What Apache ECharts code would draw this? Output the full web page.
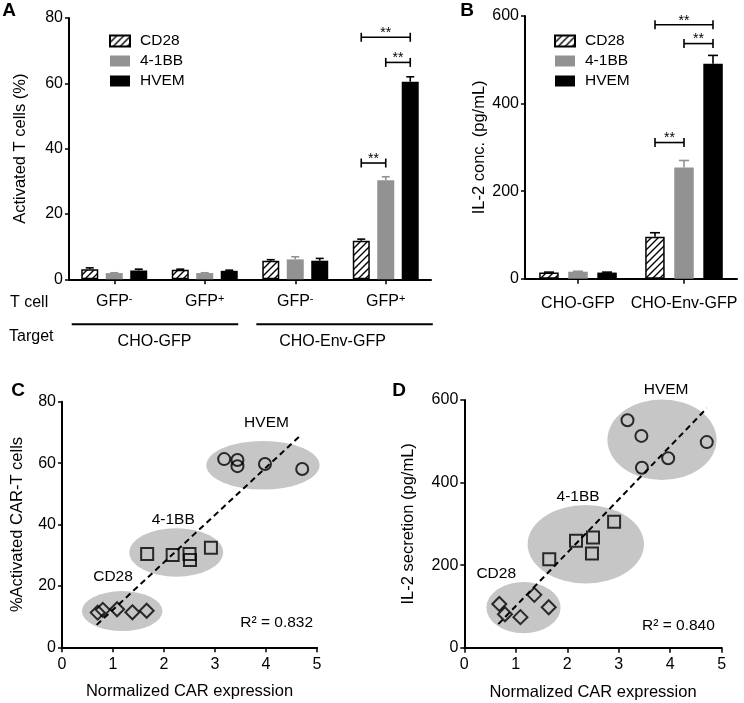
<!DOCTYPE html>
<html>
<head>
<meta charset="utf-8">
<script src="https://cdn.jsdelivr.net/npm/echarts@6/dist/echarts.min.js"></script>
<style>
html,body{margin:0;padding:0;background:#fff}
#main{width:744px;height:703px}
</style>
</head>
<body>
<div id="main"></div>
<script>
// ---- data ----
var aCats=['GFP-','GFP+','GFP-','GFP+'];
var aTargets=['CHO-GFP','CHO-Env-GFP'];
var aCD28=[3.1,2.9,5.7,11.8], aCD28Err=[0.4,0.2,0.3,0.5];
var a41BB=[1.9,1.9,6.1,30.3], a41BBErr=[0.1,0.1,0.8,1.1];
var aHVEM=[2.7,2.6,5.7,60.5], aHVEMErr=[0.4,0.2,0.7,1.5];
// [category, from bar, to bar, height]
var aSig=[[3,0,1,35.6],[3,1,2,66.4],[3,0,2,74.1]];

var bCats=['CHO-GFP','CHO-Env-GFP'];
var bCD28=[14,96], bCD28Err=[1,9];
var b41BB=[16,254], b41BBErr=[1,16];
var bHVEM=[14,491], bHVEMErr=[1,19];
var bSig=[[1,0,1,311],[1,1,2,537],[1,0,2,580]];

var cHVEM=[[3.18,61.3],[3.44,61.0],[3.44,59.0],[3.98,59.7],[4.71,58.1]];
var c41BB=[[1.67,30.4],[2.17,30.1],[2.50,30.4],[2.51,28.4],[2.92,32.4]];
var cCD28=[[0.70,11.3],[0.80,12.2],[1.08,12.4],[1.38,11.4],[1.66,11.9]];
var cFit=[[0.68,7.3],[4.67,68.9]];
var cGroups=[[3.94,59.3,1.11,7.9],[2.24,30.9,0.92,7.9],[1.18,11.8,0.79,6.5]]; // cx, cy, rx, ry
var cR2='R\u00b2 = 0.832';

var dHVEM=[[3.17,551],[3.44,513],[3.45,436],[3.96,459],[4.71,498]];
var d41BB=[[1.65,214],[2.17,259],[2.50,267],[2.48,228],[2.91,305]];
var dCD28=[[0.68,106],[0.79,81],[1.09,74],[1.36,128],[1.64,98]];
var dFit=[[0.66,57],[4.71,580]];
var dGroups=[[3.84,503.6,1.06,97.6],[2.36,250.6,1.13,95],[1.15,97,0.72,62]];
var dR2='R\u00b2 = 0.840';

// ---- style ----
var FONT='"Liberation Sans", Arial, sans-serif';
var GRAY='#929292', ELL='#c6c6c6';

function hatch(){
	var c=document.createElement('canvas');c.width=7;c.height=7;
	var g=c.getContext('2d');
	g.fillStyle='#fff';g.fillRect(0,0,7,7);
	g.strokeStyle='#000';g.lineWidth=1.4;
	g.beginPath();
	g.moveTo(-1,8);g.lineTo(8,-1);
	g.moveTo(-1,1);g.lineTo(1,-1);
	g.moveTo(6,8);g.lineTo(8,6);
	g.stroke();
	return c;
}
var HATCH={image:hatch(),repeat:'repeat'};

function barS(name,gi,data,w,gap,fill){
	var st={color:fill};
	if(name=='CD28'){st.borderColor='#000';st.borderWidth=1.5}
	return {type:'bar',name:name,xAxisIndex:gi,yAxisIndex:gi,data:data,barWidth:w,barGap:gap,itemStyle:st,z:2,silent:true};
}
function errS(gi,vals,errs,k,sp,color,cap){
	return {type:'custom',xAxisIndex:gi,yAxisIndex:gi,z:1,silent:true,
		data:vals.map(function(v,i){return [i,v,errs[i]]}),
		encode:{x:0,y:1},
		renderItem:function(p,api){
			var a=api.coord([api.value(0),api.value(1)]),b=api.coord([api.value(0),api.value(1)+api.value(2)]);
			var x=a[0]+k*sp;
			return {type:'group',children:[
				{type:'line',shape:{x1:x,y1:a[1],x2:x,y2:b[1]},style:{stroke:color,lineWidth:1.6}},
				{type:'line',shape:{x1:x-cap,y1:b[1],x2:x+cap,y2:b[1]},style:{stroke:color,lineWidth:1.6}}
			]};
		}};
}
function sigS(gi,sig,sp){
	return {type:'custom',xAxisIndex:gi,yAxisIndex:gi,z:3,silent:true,clip:false,
		data:sig,encode:{x:0,y:3},
		renderItem:function(p,api){
			var c=api.coord([api.value(0),api.value(3)]);
			var x1=c[0]+(api.value(1)-1)*sp,x2=c[0]+(api.value(2)-1)*sp,y=c[1];
			var ls={stroke:'#000',lineWidth:1.6};
			return {type:'group',children:[
				{type:'line',shape:{x1:x1,y1:y,x2:x2,y2:y},style:ls},
				{type:'line',shape:{x1:x1,y1:y-4.5,x2:x1,y2:y+4.5},style:ls},
				{type:'line',shape:{x1:x2,y1:y-4.5,x2:x2,y2:y+4.5},style:ls},
				{type:'text',style:{text:'**',x:(x1+x2)/2,y:y+3,align:'center',verticalAlign:'bottom',fontSize:14,fontFamily:FONT,fill:'#000'}}
			]};
		}};
}
function ellS(gi,groups){
	return {type:'custom',xAxisIndex:gi,yAxisIndex:gi,z:0,silent:true,
		data:groups,encode:{x:0,y:1},
		renderItem:function(p,api){
			var c=api.coord([api.value(0),api.value(1)]),s=api.size([api.value(2),api.value(3)]);
			return {type:'circle',x:c[0],y:c[1],scaleY:s[1]/s[0],shape:{cx:0,cy:0,r:s[0]},style:{fill:ELL}};
		}};
}
function ptS(gi,data,sym,size){
	return {type:'scatter',xAxisIndex:gi,yAxisIndex:gi,data:data,symbol:sym,symbolSize:size,z:4,silent:true,
		itemStyle:{color:'rgba(0,0,0,0)',borderColor:'#000',borderWidth:2}};
}
function fitS(gi,data){
	return {type:'line',xAxisIndex:gi,yAxisIndex:gi,data:data,symbol:'none',z:3,silent:true,
		lineStyle:{color:'#000',width:2,type:[6,4]}};
}

var axLine={show:true,lineStyle:{color:'#000',width:2}};
var axTick={show:true,length:4,lineStyle:{color:'#000',width:1.5}};
var lab={color:'#000',fontSize:16,fontFamily:FONT};

function yAx(gi,max,step,name,gap){
	return {type:'value',gridIndex:gi,min:0,max:max,interval:step,
		axisLine:axLine,axisTick:axTick,splitLine:{show:false},
		axisLabel:Object.assign({margin:6},lab),
		name:name,nameLocation:'middle',nameGap:gap,
		nameTextStyle:{color:'#000',fontSize:16.5,fontFamily:FONT}};
}
function xVal(gi){
	return {type:'value',gridIndex:gi,min:0,max:5,interval:1,
		axisLine:axLine,axisTick:{show:true,length:5,lineStyle:{color:'#000',width:1.5}},splitLine:{show:false},
		axisLabel:Object.assign({margin:9},lab),
		name:'Normalized CAR expression',nameLocation:'middle',nameGap:36,
		nameTextStyle:{color:'#000',fontSize:16.5,fontFamily:FONT}};
}

var option={
	animation:false,
	backgroundColor:'#fff',
	textStyle:{fontFamily:FONT},
	grid:[
		{left:69,top:18,width:362,height:261.3},
		{left:525,top:16,width:212,height:262.7},
		{left:62,top:401.7,width:255,height:245.6},
		{left:464.3,top:400,width:257.4,height:247.7}
	],
	legend:[0,1].map(function(i){
		return {data:['CD28','4-1BB','HVEM'],orient:'vertical',left:i?549:104,top:28,
			icon:'rect',itemWidth:20,itemHeight:11,itemGap:4,selectedMode:false,
			textStyle:{color:'#000',fontSize:15.5,fontFamily:FONT,padding:[0,0,0,5]}};
	}),
	xAxis:[
		{type:'category',gridIndex:0,data:aCats,
			axisLine:axLine,axisTick:{show:true,alignWithLabel:true,length:5,lineStyle:{color:'#000',width:1.5}},
			axisLabel:{margin:14,interval:0,formatter:function(v){return '{m|GFP}{s|'+v.slice(3)+'}'},
				rich:{m:{fontSize:16,color:'#000',fontFamily:FONT},s:{fontSize:11,color:'#000',fontFamily:FONT,verticalAlign:'top'}}}},
		{type:'category',gridIndex:1,data:bCats,
			axisLine:axLine,axisTick:{show:true,alignWithLabel:true,length:5,lineStyle:{color:'#000',width:1.5}},
			axisLabel:Object.assign({margin:17,interval:0},lab)},
		xVal(2),xVal(3)
	],
	yAxis:[
		yAx(0,80,20,'Activated T cells (%)',40),
		yAx(1,600,200,'IL-2 conc. (pg/mL)',37),
		yAx(2,80,20,'%Activated CAR-T cells',36),
		yAx(3,600,200,'IL-2 secretion (pg/mL)',47)
	],
	series:[
		barS('CD28',0,aCD28,17,'44%',HATCH),
		barS('4-1BB',0,a41BB,17,'44%',GRAY),
		barS('HVEM',0,aHVEM,17,'44%','#000'),
		errS(0,aCD28,aCD28Err,-1,24.5,'#000',4),
		errS(0,a41BB,a41BBErr,0,24.5,GRAY,4),
		errS(0,aHVEM,aHVEMErr,1,24.5,'#000',4),
		sigS(0,aSig,24.5),
		barS('CD28',1,bCD28,19.5,'49%',HATCH),
		barS('4-1BB',1,b41BB,19.5,'49%',GRAY),
		barS('HVEM',1,bHVEM,19.5,'49%','#000'),
		errS(1,bCD28,bCD28Err,-1,29,'#000',5),
		errS(1,b41BB,b41BBErr,0,29,GRAY,5),
		errS(1,bHVEM,bHVEMErr,1,29,'#000',5),
		sigS(1,bSig,29),
		ellS(2,cGroups),fitS(2,cFit),
		ptS(2,cHVEM,'circle',12),ptS(2,c41BB,'rect',12),ptS(2,cCD28,'diamond',14),
		ellS(3,dGroups),fitS(3,dFit),
		ptS(3,dHVEM,'circle',12),ptS(3,d41BB,'rect',12),ptS(3,dCD28,'diamond',14)
	]
};

var chart=echarts.init(document.getElementById('main'),null,{renderer:'canvas'});
chart.setOption(option);

// ---- annotations ----
function txt(s,x,y,size,bold,align){
	return {type:'text',x:x,y:y,silent:true,style:{text:s,fill:'#000',fontSize:size,fontFamily:FONT,fontWeight:bold?'bold':'normal',align:align||'center',verticalAlign:'middle'}};
}
var gr=[];
gr.push(txt('A',9,11,19,true),txt('B',467,11,19,true),txt('C',18,391,19,true),txt('D',399,391,19,true));

// two-level axis of panel A
var p0=chart.convertToPixel({xAxisIndex:0},0),p1=chart.convertToPixel({xAxisIndex:0},1);
var p2=chart.convertToPixel({xAxisIndex:0},2),p3=chart.convertToPixel({xAxisIndex:0},3);
var band=p1-p0, yLab=chart.convertToPixel({yAxisIndex:0},0);
gr.push(txt('T cell',10,yLab+23,16,false,'left'),txt('Target',9,yLab+57,16,false,'left'));
var lineY=yLab+45;
[[p0-0.47*band,p1+0.37*band],[p2-0.43*band,p3+0.52*band]].forEach(function(s,i){
	gr.push({type:'line',silent:true,shape:{x1:s[0],y1:lineY,x2:s[1],y2:lineY},style:{stroke:'#000',lineWidth:2}});
	gr.push(txt(aTargets[i],i?(p2+p3)/2-8:(p0+p1)/2-5,lineY+17,16));
});

// group names in C and D
var notes=[
	[2,'HVEM',4.01,73.2],[2,'4-1BB',2.18,41.5],[2,'CD28',1.0,23],[2,cR2,4.21,8.1],
	[3,'HVEM',3.92,624],[3,'4-1BB',2.21,366],[3,'CD28',0.62,180],[3,dR2,4.16,52.5]
];
notes.forEach(function(n){
	var p=chart.convertToPixel({gridIndex:n[0]},[n[2],n[3]]);
	gr.push(txt(n[1],p[0],p[1],15.5));
});
chart.setOption({graphic:gr});
</script>
</body>
</html>
